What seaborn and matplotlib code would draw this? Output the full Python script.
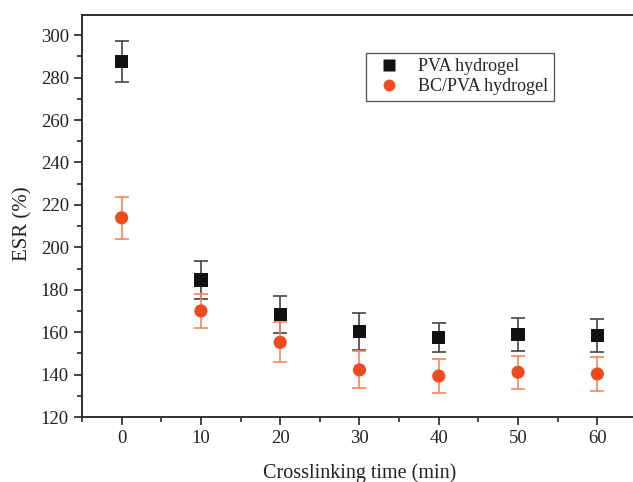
import matplotlib
matplotlib.use("Agg")
import matplotlib.pyplot as plt
from matplotlib.ticker import MultipleLocator
import seaborn as sns
import pandas as pd

time_min = [0, 10, 20, 30, 40, 50, 60]
pva_esr = [287.5, 184.6, 168.4, 160.2, 157.6, 158.8, 158.3]
pva_err = [9.7, 8.9, 8.7, 8.8, 6.9, 7.7, 7.7]
bc_esr = [213.9, 170.0, 155.2, 142.2, 139.3, 141.1, 140.3]
bc_err = [9.9, 7.9, 9.5, 8.7, 7.9, 7.7, 8.2]
series_names = ["PVA hydrogel", "BC/PVA hydrogel"]

df = pd.DataFrame({
    "time": time_min * 2,
    "esr": pva_esr + bc_esr,
    "err": pva_err + bc_err,
    "series": [series_names[0]] * len(time_min) + [series_names[1]] * len(time_min),
})

sns.set_theme(style="ticks")
plt.rcParams["font.family"] = ["Liberation Serif", "DejaVu Serif"]

fig = plt.figure(figsize=(6.33, 4.82), dpi=100)
ax = fig.add_axes([82 / 633, 65 / 482, (637 - 82) / 633, (417 - 15) / 482])

colors = {series_names[0]: "#111111", series_names[1]: "#f04b1f"}
ecolors = {series_names[0]: "#444444", series_names[1]: "#f5875f"}
markers = {series_names[0]: "s", series_names[1]: "o"}

for name in series_names:
    sub = df[df["series"] == name]
    ax.errorbar(sub["time"], sub["esr"], yerr=sub["err"], fmt="none",
                ecolor=ecolors[name], elinewidth=1.2, capsize=5, capthick=1.2, zorder=2)

sns.scatterplot(data=df, x="time", y="esr", hue="series", style="series",
                palette=colors, markers=markers, s=90, edgecolor="none",
                ax=ax, zorder=3, legend=True)

ax.set_xlim(-5, 65)
ax.set_ylim(120, 309.5)
ax.xaxis.set_major_locator(MultipleLocator(10))
ax.xaxis.set_minor_locator(MultipleLocator(5))
ax.yaxis.set_major_locator(MultipleLocator(20))
ax.yaxis.set_minor_locator(MultipleLocator(10))
ax.tick_params(which="major", direction="out", length=6, width=1.2, labelsize=13.5, colors="#222222")
ax.tick_params(which="minor", direction="out", length=3.5, width=1.2)
for side in ["left", "bottom", "top"]:
    ax.spines[side].set_linewidth(1.3)
    ax.spines[side].set_color("#222222")
ax.spines["right"].set_visible(False)

ax.set_xlabel("Crosslinking time (min)", fontsize=14.5, color="#222222")
ax.set_ylabel("ESR (%)", fontsize=15, color="#222222")
ax.xaxis.set_label_coords(0.5, -0.115)
ax.yaxis.set_label_coords(-0.09, 0.48)

handles, labels = ax.get_legend_handles_labels()
leg = ax.legend(handles, labels, loc="upper left",
                bbox_to_anchor=((366 - 82) / 555, (417 - 53) / 402),
                borderaxespad=0, frameon=True, fancybox=False, fontsize=13,
                handletextpad=0.6, borderpad=0.3, labelspacing=0.15,
                markerscale=0.9, title=None)
leg.get_frame().set_edgecolor("#333333")
leg.get_frame().set_linewidth(1.0)

fig.savefig("out.png", dpi=100)
